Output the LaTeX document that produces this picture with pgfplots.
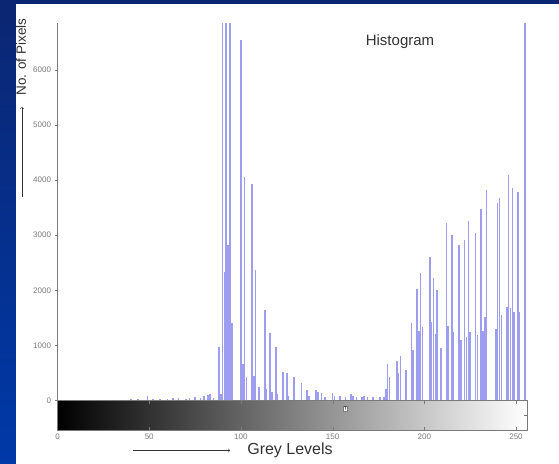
\documentclass[border=0pt]{standalone}
\usepackage{fontspec}
\setmainfont{Liberation Sans}
\usepackage{pgfplots}
\pgfplotsset{compat=1.18}
\definecolor{slidetop}{HTML}{0B2672}
\definecolor{slidebot}{HTML}{0039A8}
\definecolor{stem}{RGB}{158,158,240}
\definecolor{tickgrey}{HTML}{7A7A7A}
\definecolor{labgrey}{HTML}{333333}

\pgfplotstableread{
g v
40 20
44 30
49 90
52 20
56 30
60 20
63 40
66 40
70 30
72 50
75 60
78 40
80 80
82 100
83 110
85 40
88 970
89 120
90 7000
91 2330
92 7000
93 2820
94 7000
95 1400
100 6550
101 670
102 4050
103 420
106 3920
107 450
108 2360
110 250
113 1640
114 200
116 1220
117 150
119 970
120 120
123 510
125 490
126 90
129 420
133 310
136 190
137 80
141 190
142 150
144 130
146 60
150 130
151 90
154 90
157 70
160 110
161 90
163 70
166 70
167 90
169 70
172 70
176 70
178 60
179 210
180 670
181 420
185 720
186 500
187 800
190 550
193 1400
194 910
196 2030
197 1270
198 2310
199 1330
203 2600
204 1420
205 2220
206 1200
207 2000
209 950
212 3220
213 1350
215 3000
216 1250
219 2820
220 1090
222 2910
223 1150
224 3250
225 1240
228 3040
229 1180
231 3470
232 1270
233 1510
234 3820
239 1300
240 3580
241 3670
242 1550
245 1700
246 4090
247 1680
248 3850
249 1600
251 3780
252 1600
255 7000
}\histdata

\begin{document}
\begin{tikzpicture}
% slide background and white panel
\fill[top color=slidetop, bottom color=slidebot] (0,0) rectangle (559pt,463pt);
\fill[white] (16pt,-2pt) rectangle (561pt,459pt);

% stem histogram
\begin{axis}[
    at={(57.5pt,62.5pt)}, anchor=south west,
    scale only axis,
    width=469.5pt, height=377.5pt,
    xmin=0, xmax=256,
    ymin=0, ymax=6850,
    axis x line=none,
    axis y line*=left,
    axis line style={draw=tickgrey, line width=0.6pt},
    ytick={0,1000,2000,3000,4000,5000,6000},
    yticklabels={0,1000,2000,3000,4000,5000,6000},
    tick align=outside,
    major tick length=3pt,
    tick style={draw=tickgrey},
    tick label style={font=\fontsize{8}{9}\selectfont, text=tickgrey},
    clip=true,
    ]
    \addplot[ycomb, draw=stem, line width=1.6pt, mark=none] table[x=g, y=v] {\histdata};
\end{axis}

% grey level bar
\begin{axis}[
    at={(57.5pt,33pt)}, anchor=south west,
    scale only axis,
    width=469.5pt, height=29.5pt,
    xmin=0, xmax=256,
    ymin=0, ymax=1,
    axis on top,
    axis line style={draw=tickgrey, line width=0.6pt},
    xtick={0,50,100,150,200,250},
    xticklabels={0,50,100,150,200,250},
    ytick={0.5},
    yticklabels={},
    ytick pos=right,
    tick align=inside,
    major tick length=3pt,
    tick style={draw=tickgrey},
    tick label style={font=\fontsize{8}{9}\selectfont, text=tickgrey},
    ]
    \fill[left color=black, right color=white] (axis cs:0,0) rectangle (axis cs:256,1);
    \node[fill=white, draw=tickgrey, line width=0.3pt, inner sep=0.6pt, font=\fontsize{5}{5}\selectfont] at (axis cs:157,0.72) {T};
\end{axis}

% titles and labels
\node[font=\fontsize{15}{16}\selectfont, text=labgrey] at (400pt,421pt) {Histogram};
\node[rotate=90, font=\fontsize{13.5}{14}\selectfont, text=labgrey] at (21pt,406pt) {No. of Pixels};
\draw[->, labgrey, line width=0.5pt] (22pt,266pt) -- (22pt,356pt);
\node[font=\fontsize{16}{17}\selectfont, text=labgrey] at (290pt,12.5pt) {Grey Levels};
\draw[->, labgrey, line width=0.5pt] (133pt,12.5pt) -- (230pt,12.5pt);

\pgfresetboundingbox
\useasboundingbox (0,0) rectangle (559pt,463pt);
\end{tikzpicture}
\end{document}
